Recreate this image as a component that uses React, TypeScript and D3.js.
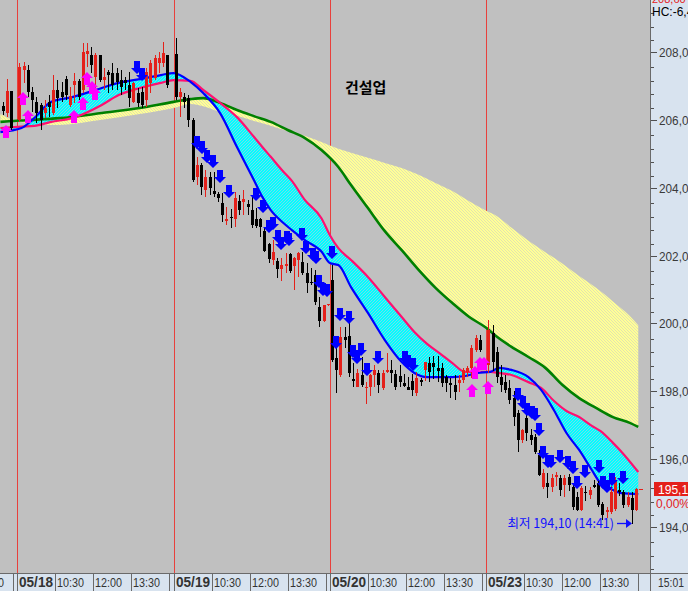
import { useEffect, useRef } from 'react';
import * as d3 from 'd3';

type Ohlc = [number, number, number, number];

const WIDTH = 688;
const HEIGHT = 591;
const PLOT_RIGHT = 650;
const PLOT_BOTTOM = 573;
const SLOTS_PER_DAY = 37;

// x axis: 10 minute slots, 09:00 .. 15:00 (37 per day)
const dayLabels = ['05/17', '05/18', '05/19', '05/20', '05/23'];
const tickSlots = [0, 9, 18, 27, 36];
const tickTimes = ['', '10:30', '12:00', '13:30', ''];
const lastTimeLabel = '15:01';

const priceTicks = [194, 196, 198, 200, 202, 204, 206, 208];

const ohlc0517: Ohlc[] = [
  [206.41, 206.53, 206.14, 206.26],
  [206.2, 207.2, 206.08, 206.85],
  [206.85, 206.85, 205.7, 205.76],
];

const ohlc0518: Ohlc[] = [
  [206.0, 207.67, 205.94, 207.57],
  [207.47, 207.7, 207.09, 207.59],
  [207.47, 207.62, 206.67, 206.82],
  [206.82, 206.97, 206.23, 206.59],
  [206.53, 206.67, 205.9, 206.2],
  [206.44, 206.5, 205.7, 206.0],
  [206.2, 206.59, 206.05, 206.35],
  [206.53, 206.73, 206.08, 206.38],
  [206.2, 207.32, 206.14, 206.88],
  [206.88, 207.17, 206.35, 206.64],
  [206.82, 207.12, 206.53, 206.67],
  [207.2, 207.29, 206.59, 206.73],
  [206.44, 206.97, 206.38, 206.7],
  [207.03, 207.38, 206.5, 207.14],
  [207.14, 207.2, 206.59, 206.67],
  [206.88, 208.27, 206.79, 208.0],
  [207.94, 208.27, 207.56, 208.03],
  [207.91, 208.15, 207.38, 207.62],
  [207.26, 207.97, 206.94, 207.91],
  [207.91, 207.91, 207.12, 207.17],
  [207.17, 207.53, 206.88, 207.26],
  [207.41, 207.47, 206.79, 207.32],
  [207.38, 207.68, 206.88, 207.03],
  [207.38, 207.53, 206.88, 207.12],
  [207.17, 207.47, 206.73, 206.97],
  [207.17, 207.26, 206.88, 207.09],
  [207.03, 207.41, 206.38, 206.64],
  [206.53, 207.12, 206.5, 207.09],
  [206.79, 206.94, 206.38, 206.5],
  [206.82, 206.97, 206.35, 206.44],
  [206.59, 207.53, 206.38, 207.41],
  [207.09, 207.76, 206.79, 207.68],
  [207.23, 207.91, 207.17, 207.82],
  [207.68, 208.0, 207.38, 207.82],
  [207.68, 208.3, 207.56, 207.97],
  [207.91, 207.91, 206.94, 207.03],
];

const ohlc0519: Ohlc[] = [
  [207.94, 208.41, 206.59, 206.67],
  [206.68, 206.94, 206.08, 206.82],
  [206.67, 206.79, 206.35, 206.53],
  [206.64, 206.73, 205.79, 206.0],
  [206.0, 206.05, 204.16, 204.22],
  [204.31, 204.9, 204.08, 204.67],
  [204.67, 204.73, 203.78, 204.02],
  [203.93, 204.52, 203.72, 204.31],
  [204.31, 204.46, 203.78, 203.99],
  [203.9, 204.46, 203.72, 203.81],
  [203.81, 203.87, 203.58, 203.69],
  [203.55, 203.84, 202.98, 203.19],
  [203.01, 203.43, 202.9, 203.07],
  [203.13, 203.37, 202.81, 203.1],
  [203.07, 203.87, 202.84, 203.69],
  [203.6, 203.78, 203.19, 203.34],
  [203.58, 203.93, 203.19, 203.66],
  [203.52, 203.63, 203.19, 203.43],
  [203.34, 203.78, 202.81, 202.9],
  [203.07, 203.4, 202.81, 202.87],
  [203.07, 203.1, 202.54, 202.84],
  [202.72, 202.81, 202.1, 202.13],
  [202.34, 202.37, 201.78, 201.89],
  [201.86, 202.46, 201.72, 202.1],
  [201.83, 201.92, 201.33, 201.6],
  [201.6, 201.92, 201.24, 201.72],
  [201.69, 202.07, 201.48, 201.75],
  [202.04, 202.07, 201.48, 201.54],
  [201.69, 201.95, 200.98, 201.92],
  [201.86, 202.1, 201.36, 202.07],
  [201.8, 202.1, 201.42, 201.48],
  [201.48, 201.78, 200.89, 201.19],
  [201.22, 201.63, 201.13, 201.19],
  [201.42, 201.57, 200.54, 200.63],
  [200.48, 200.77, 199.89, 200.06],
  [200.06, 200.54, 200.04, 200.54],
  [200.52, 200.56, 200.5, 200.56],
];

const ohlc0520: Ohlc[] = [
  [201.28, 201.72, 198.85, 198.91],
  [198.97, 199.5, 197.94, 198.62],
  [198.47, 199.89, 198.41, 199.59],
  [199.59, 199.89, 199.27, 199.5],
  [199.62, 200.0, 198.41, 198.53],
  [198.35, 198.83, 198.12, 198.29],
  [198.12, 198.65, 198.12, 198.53],
  [198.47, 199.0, 198.12, 198.18],
  [198.09, 198.26, 197.64, 198.12],
  [198.12, 198.5, 197.85, 198.47],
  [198.47, 198.77, 198.12, 198.62],
  [198.53, 198.62, 197.94, 198.18],
  [198.09, 198.62, 198.03, 198.53],
  [198.56, 199.12, 198.53, 198.62],
  [198.62, 198.91, 198.24, 198.53],
  [198.5, 198.62, 198.03, 198.12],
  [198.44, 198.77, 198.12, 198.27],
  [198.24, 198.5, 198.12, 198.15],
  [198.12, 198.41, 198.03, 198.03],
  [198.29, 198.5, 197.85, 198.03],
  [197.94, 198.56, 197.85, 198.38],
  [198.32, 198.38, 198.15, 198.26],
  [198.62, 198.85, 198.3, 198.85],
  [198.82, 199.0, 198.27, 198.56],
  [198.82, 199.03, 198.35, 198.7],
  [198.7, 199.03, 198.27, 198.62],
  [198.7, 198.82, 198.12, 198.26],
  [198.41, 198.47, 197.97, 198.24],
  [198.24, 198.38, 197.79, 198.18],
  [198.18, 198.47, 197.73, 197.97],
  [198.24, 198.47, 197.97, 198.32],
  [198.32, 198.7, 198.24, 198.62],
  [198.56, 198.74, 198.41, 198.68],
  [198.68, 199.36, 198.38, 199.27],
  [199.21, 199.65, 199.15, 199.56],
  [199.5, 199.65, 199.15, 199.21],
  [198.74, 198.77, 198.68, 198.7],
];

const ohlc0523: Ohlc[] = [
  [198.77, 200.09, 198.53, 199.8],
  [199.71, 199.95, 198.6, 198.85],
  [199.15, 199.3, 198.24, 198.41],
  [198.41, 198.77, 197.97, 198.18],
  [198.26, 198.47, 197.94, 198.03],
  [198.09, 198.32, 197.64, 197.73],
  [197.79, 198.0, 196.97, 197.23],
  [197.35, 197.44, 196.2, 196.55],
  [196.55, 196.9, 196.49, 196.85],
  [197.2, 197.29, 196.52, 196.76],
  [196.7, 196.9, 196.41, 196.55],
  [196.64, 196.73, 196.14, 196.2],
  [196.11, 196.26, 195.5, 195.52],
  [195.17, 195.7, 195.11, 195.58],
  [195.29, 195.58, 194.85, 195.17],
  [195.17, 195.55, 195.02, 195.43],
  [195.46, 195.61, 195.2, 195.52],
  [195.43, 195.52, 194.91, 195.08],
  [195.23, 195.52, 194.88, 195.43],
  [195.46, 195.55, 195.05, 195.23],
  [195.17, 195.23, 194.49, 194.58],
  [194.88, 195.02, 194.46, 194.49],
  [194.49, 195.2, 194.46, 195.14],
  [195.02, 195.2, 194.76, 194.99],
  [194.93, 195.17, 194.82, 195.08],
  [195.23, 195.38, 195.14, 195.17],
  [195.29, 195.35, 194.58, 194.64],
  [194.67, 194.73, 194.2, 194.35],
  [194.44, 194.58, 194.26, 194.49],
  [194.43, 195.2, 194.38, 195.02],
  [194.55, 195.46, 194.46, 195.37],
  [195.08, 195.29, 194.9, 195.02],
  [195.02, 195.08, 194.55, 194.64],
  [194.64, 195.02, 194.58, 194.88],
  [194.85, 195.02, 194.1, 194.49],
  [194.49, 195.14, 194.46, 195.11],
];

const sessions = [
  { day: 0, first: 33, rows: ohlc0517 },
  { day: 1, first: 0, rows: ohlc0518 },
  { day: 2, first: 0, rows: ohlc0519 },
  { day: 3, first: 0, rows: ohlc0520 },
  { day: 4, first: 0, rows: ohlc0523 },
];

// short averages (blue fast / pink slow), sampled at these slots
const fastSlots = [33, 38, 41, 45, 50, 57, 61, 66, 71, 74, 78, 81, 85, 89, 93, 95, 97, 100, 102, 105, 109, 111, 113, 116, 120, 124, 128, 131, 134, 137, 140, 143, 146, 149, 151, 154, 158, 161, 164, 167, 170, 173, 175, 178, 180, 184];
const blueLine = [205.64, 205.76, 206.05, 206.53, 206.67, 206.94, 207.09, 207.2, 207.32, 207.38, 207.12, 206.79, 206.2, 205.2, 204.23, 203.73, 203.34, 202.96, 202.75, 202.46, 202.12, 201.78, 201.72, 201.07, 200.31, 199.51, 198.86, 198.54, 198.42, 198.42, 198.42, 198.45, 198.54, 198.57, 198.69, 198.63, 198.42, 198.04, 197.45, 196.77, 196.27, 195.68, 195.3, 195.09, 195.0, 194.97];
const pinkLine = [205.76, 205.8, 205.82, 205.94, 206.05, 206.44, 206.73, 206.94, 207.09, 207.17, 207.15, 206.88, 206.5, 206.08, 205.5, 205.2, 204.91, 204.47, 204.2, 203.65, 203.1, 202.6, 202.22, 201.87, 201.37, 200.78, 200.19, 199.75, 199.4, 199.12, 198.83, 198.57, 198.57, 198.57, 198.54, 198.48, 198.27, 198.1, 197.72, 197.42, 197.24, 196.98, 196.83, 196.48, 196.22, 195.62];

// long averages (green / yellow edge)
const longSlots = [33, 35, 39, 47, 57, 66, 74, 78, 81, 85, 89, 93, 97, 101, 105, 109, 113, 116, 120, 124, 128, 132, 136, 140, 144, 148, 150, 154, 158, 162, 166, 170, 174, 178, 182, 184];
const greenLine = [205.94, 205.96, 205.99, 206.05, 206.2, 206.35, 206.53, 206.61, 206.64, 206.5, 206.29, 206.11, 205.94, 205.7, 205.47, 205.11, 204.61, 204.08, 203.4, 202.72, 202.16, 201.58, 201.05, 200.6, 200.19, 199.87, 199.66, 199.31, 199.01, 198.69, 198.19, 197.8, 197.51, 197.24, 197.07, 196.95];
const yellowLine = [206.17, 206.05, 205.91, 205.85, 206.0, 206.17, 206.35, 206.47, 206.4, 206.23, 206.12, 205.97, 205.83, 205.67, 205.53, 205.35, 205.15, 205.03, 204.88, 204.73, 204.58, 204.38, 204.14, 203.9, 203.6, 203.32, 203.2, 202.82, 202.44, 202.1, 201.77, 201.4, 201.05, 200.65, 200.22, 199.95];

// signal arrows: [slot, price]
const sellSignals: [number, number][] = [
  [64.8, 207.53], [66.0, 207.32],
  [79.1, 205.32], [80.2, 205.17], [81.3, 204.91], [82.8, 204.76], [84.5, 204.32], [86.5, 203.87],
  [93.0, 203.79], [94.7, 203.43], [96.2, 202.84], [97.0, 202.93], [98.2, 202.55], [98.9, 202.34],
  [100.4, 202.52], [100.9, 202.46], [103.8, 202.61], [104.9, 202.22], [106.4, 202.02], [107.1, 201.93],
  [107.9, 201.22], [108.9, 200.99], [109.9, 200.96], [111.1, 202.08],
  [112.0, 199.42], [113.0, 200.25], [115.1, 200.16], [116.0, 199.16], [117.0, 198.98], [117.9, 199.22],
  [119.2, 198.63], [122.0, 198.98], [128.3, 198.98], [129.1, 198.86], [130.1, 198.78],
  [155.1, 197.89], [156.2, 197.66], [157.1, 197.45], [158.3, 197.36], [159.1, 197.3], [160.1, 196.86],
  [161.0, 196.18], [162.2, 195.92], [162.8, 195.92], [165.0, 196.06], [166.9, 195.89], [168.1, 195.74],
  [169.0, 195.3], [170.9, 195.62], [174.2, 195.77], [175.2, 195.3], [176.0, 195.18], [177.2, 195.39], [179.9, 195.45],
];
const buySignals: [number, number][] = [
  [33.8, 205.67], [37.9, 206.64], [39.1, 206.11], [49.9, 206.11], [52.1, 206.5], [53.1, 207.23],
  [54.1, 206.97], [54.9, 206.79], [144.1, 198.04], [144.9, 198.57], [146.0, 198.83], [147.0, 198.83], [147.9, 198.12],
];

const chartTitle = '건설업';
const lastPrice = 195.11;
const lastChange = '0,00%';
const topPrice = '208,60';
const hcText = 'HC:-6,48';
const lowPrice = 194.1;
const lowTime = '14:41';

const AXIS_FONT = '"Liberation Sans", Arial, sans-serif';
const KR_FONT = '"Noto Sans CJK KR", "Noto Sans", sans-serif';
const fmt = (v: number) => v.toFixed(2).replace('.', ',');

export default function App() {
  const svgRef = useRef<SVGSVGElement | null>(null);

  useEffect(() => {
    const el = svgRef.current;
    if (!el) return;
    const svg = d3.select(el);
    svg.selectAll('*').remove();

    const x = d3.scaleLinear().domain([37, 185]).range([17.3, 642.5]);
    const y = d3.scaleLinear().domain([194, 208]).range([527, 52]);

    const defs = svg.append('defs');
    defs.append('clipPath').attr('id', 'plot-clip').append('rect').attr('width', PLOT_RIGHT).attr('height', PLOT_BOTTOM);
    const cyanPat = defs.append('pattern').attr('id', 'cyan-hatch').attr('patternUnits', 'userSpaceOnUse').attr('width', 3).attr('height', 3);
    cyanPat.append('rect').attr('width', 3).attr('height', 3).attr('fill', '#00ffff');
    cyanPat.append('path').attr('d', 'M0,3L3,0').attr('stroke', '#86d6e6').attr('stroke-width', 0.9);
    const yellowPat = defs.append('pattern').attr('id', 'yellow-hatch').attr('patternUnits', 'userSpaceOnUse').attr('width', 3).attr('height', 3);
    yellowPat.append('rect').attr('width', 3).attr('height', 3).attr('fill', '#ffff96');
    yellowPat.append('path').attr('d', 'M0,0L3,3').attr('stroke', '#dcdab4').attr('stroke-width', 0.8);

    const plot = svg.append('g').attr('clip-path', 'url(#plot-clip)');
    plot.append('rect').attr('width', PLOT_RIGHT).attr('height', PLOT_BOTTOM).attr('fill', '#c0c0c0');

    // day separators
    const dayStarts = dayLabels.map((_, i) => i * SLOTS_PER_DAY).filter((g) => g >= 37);
    plot
      .selectAll('line.day')
      .data(dayStarts)
      .join('line')
      .attr('class', 'day')
      .attr('x1', (g) => Math.round(x(g)) + 0.5)
      .attr('x2', (g) => Math.round(x(g)) + 0.5)
      .attr('y1', 0)
      .attr('y2', PLOT_BOTTOM)
      .attr('stroke', '#e8403c')
      .attr('stroke-width', 1);

    // long band
    const longBand = d3
      .area<number>()
      .x((_, i) => x(longSlots[i]))
      .y0((d) => y(d))
      .y1((_, i) => y(yellowLine[i]))
      .curve(d3.curveMonotoneX);
    plot.append('path').datum(greenLine).attr('d', longBand).attr('fill', 'url(#yellow-hatch)');

    // short band
    const shortBand = d3
      .area<number>()
      .x((_, i) => x(fastSlots[i]))
      .y0((d) => y(d))
      .y1((_, i) => y(pinkLine[i]))
      .curve(d3.curveMonotoneX);
    plot.append('path').datum(blueLine).attr('d', shortBand).attr('fill', 'url(#cyan-hatch)');

    const lineOn = (slots: number[]) =>
      d3
        .line<number>()
        .x((_, i) => x(slots[i]))
        .y((d) => y(d))
        .curve(d3.curveMonotoneX);

    plot.append('path').datum(greenLine).attr('d', lineOn(longSlots)).attr('fill', 'none').attr('stroke', '#008000').attr('stroke-width', 2.6);
    plot.append('path').datum(pinkLine).attr('d', lineOn(fastSlots)).attr('fill', 'none').attr('stroke', '#ff1070').attr('stroke-width', 2.2);
    plot.append('path').datum(blueLine).attr('d', lineOn(fastSlots)).attr('fill', 'none').attr('stroke', '#0000ff').attr('stroke-width', 2.2);

    // candles
    const candles = sessions.flatMap((s) =>
      s.rows.map(([o, h, l, c], i) => ({ g: s.day * SLOTS_PER_DAY + s.first + i, o, h, l, c })),
    );
    const candleG = plot.append('g');
    const rows = candleG.selectAll('g').data(candles).join('g');
    const colorOf = (d: { o: number; c: number }) => (d.c > d.o ? '#e4201a' : '#000000');
    rows
      .append('line')
      .attr('x1', (d) => Math.round(x(d.g + 0.5)) + 0.5)
      .attr('x2', (d) => Math.round(x(d.g + 0.5)) + 0.5)
      .attr('y1', (d) => Math.round(y(d.h)))
      .attr('y2', (d) => Math.round(y(d.l)))
      .attr('stroke', colorOf)
      .attr('stroke-width', 1);
    rows
      .append('rect')
      .attr('x', (d) => Math.round(x(d.g + 0.5)) - 1)
      .attr('width', 3)
      .attr('y', (d) => Math.round(y(Math.max(d.o, d.c))))
      .attr('height', (d) => Math.max(1, Math.round(Math.abs(y(d.o) - y(d.c)))))
      .attr('fill', colorOf);

    // signal arrows
    const downArrow = ([g, p]: [number, number]) => {
      const cx = Math.round(x(g + 0.5));
      const cy = Math.round(y(p));
      return `M${cx - 3},${cy - 7}h6v7h3l-6,6l-6,-6h3z`;
    };
    const upArrow = ([g, p]: [number, number]) => {
      const cx = Math.round(x(g + 0.5));
      const cy = Math.round(y(p));
      return `M${cx - 3},${cy + 7}h6v-7h3l-6,-6l-6,6h3z`;
    };
    plot.append('g').selectAll('path').data(sellSignals).join('path').attr('d', downArrow).attr('fill', '#0000ff');
    plot.append('g').selectAll('path').data(buySignals).join('path').attr('d', upArrow).attr('fill', '#ff00ff');

    // title
    plot
      .append('text')
      .attr('x', 345)
      .attr('y', 93)
      .attr('font-family', KR_FONT)
      .attr('font-size', 15)
      .attr('font-weight', 700)
      .attr('fill', '#000')
      .text(chartTitle);

    // low marker
    const lowCandle = candles.find((d) => d.l === lowPrice)!;
    const lowX = Math.round(x(lowCandle.g + 0.5));
    const lowY = Math.round(y(lowPrice + 0.02));
    plot
      .append('text')
      .attr('x', lowX - 18)
      .attr('y', lowY + 5)
      .attr('text-anchor', 'end')
      .attr('font-family', KR_FONT)
      .attr('font-size', 12.5)
      .attr('fill', '#1010ff')
      .text(`최저 ${fmt(lowPrice)} (${lowTime})`);
    plot
      .append('path')
      .attr('d', `M${lowX - 15},${lowY + 0.5}h10`)
      .attr('stroke', '#1010ff')
      .attr('stroke-width', 1.3);
    plot
      .append('path')
      .attr('d', `M${lowX - 6},${lowY - 4}l6,4.5l-6,4.5z`)
      .attr('fill', '#1010ff');

    // current price tick
    const lastCandle = candles[candles.length - 1];
    plot
      .append('line')
      .attr('x1', Math.round(x(lastCandle.g + 0.5)) + 3)
      .attr('x2', Math.round(x(lastCandle.g + 0.5)) + 7)
      .attr('y1', Math.round(y(lastPrice)) + 0.5)
      .attr('y2', Math.round(y(lastPrice)) + 0.5)
      .attr('stroke', '#e4201a');

    // right price panel
    const panel = svg.append('g');
    panel.append('rect').attr('x', PLOT_RIGHT).attr('y', 0).attr('width', WIDTH - PLOT_RIGHT).attr('height', HEIGHT).attr('fill', '#d8e3ef');
    panel.append('rect').attr('x', 0).attr('y', PLOT_BOTTOM).attr('width', WIDTH).attr('height', HEIGHT - PLOT_BOTTOM).attr('fill', '#d8e3ef');

    const minorTicks = d3.range(192.75, 209.7, 0.4).filter((v) => Math.abs(v - Math.round(v / 2) * 2) > 0.1);
    panel
      .selectAll('line.minor')
      .data(minorTicks)
      .join('line')
      .attr('class', 'minor')
      .attr('x1', PLOT_RIGHT)
      .attr('x2', PLOT_RIGHT + 4)
      .attr('y1', (v) => Math.round(y(v)) + 0.5)
      .attr('y2', (v) => Math.round(y(v)) + 0.5)
      .attr('stroke', '#505050');
    panel
      .selectAll('line.major')
      .data(priceTicks)
      .join('line')
      .attr('class', 'major')
      .attr('x1', PLOT_RIGHT)
      .attr('x2', PLOT_RIGHT + 7)
      .attr('y1', (v) => Math.round(y(v)) + 0.5)
      .attr('y2', (v) => Math.round(y(v)) + 0.5)
      .attr('stroke', '#505050');
    panel
      .selectAll('text.price')
      .data(priceTicks)
      .join('text')
      .attr('class', 'price')
      .attr('x', 659)
      .attr('y', (v) => Math.round(y(v)) + 5)
      .attr('font-family', AXIS_FONT)
      .attr('font-size', 12.5)
      .attr('textLength', 36)
      .attr('lengthAdjust', 'spacingAndGlyphs')
      .attr('fill', '#3a3a3a')
      .text((v) => fmt(v));

    panel.append('text').attr('x', 652).attr('y', 3).attr('font-family', AXIS_FONT).attr('font-size', 11).attr('fill', '#e4201a').text(topPrice);
    panel.append('text').attr('x', 652).attr('y', 16).attr('font-family', AXIS_FONT).attr('font-size', 12).attr('fill', '#000').text(hcText);

    const lastY = Math.round(y(lastPrice));
    panel.append('rect').attr('x', 654).attr('y', lastY - 7).attr('width', WIDTH - 654).attr('height', 14).attr('fill', '#e4201a');
    panel
      .append('text')
      .attr('x', 658)
      .attr('y', lastY + 5)
      .attr('font-family', AXIS_FONT)
      .attr('font-size', 12.5)
      .attr('textLength', 36)
      .attr('lengthAdjust', 'spacingAndGlyphs')
      .attr('fill', '#ffffff')
      .text(fmt(lastPrice));
    panel
      .append('text')
      .attr('x', 656)
      .attr('y', lastY + 19)
      .attr('font-family', AXIS_FONT)
      .attr('font-size', 12)
      .attr('fill', '#e4201a')
      .text(lastChange);

    // bottom time axis
    const ticks = dayLabels.flatMap((day, d) =>
      tickSlots.map((s, k) => ({ g: d * SLOTS_PER_DAY + s, label: s === 0 ? day : tickTimes[k], bold: s === 0 })),
    );
    const axis = svg.append('g');
    axis
      .selectAll('line.sep')
      .data(ticks)
      .join('line')
      .attr('class', 'sep')
      .attr('x1', (t) => Math.round(x(t.g)) + 0.5)
      .attr('x2', (t) => Math.round(x(t.g)) + 0.5)
      .attr('y1', PLOT_BOTTOM)
      .attr('y2', HEIGHT)
      .attr('stroke', '#6a6a6a');
    axis
      .selectAll('text.time')
      .data(ticks.filter((t) => t.label))
      .join('text')
      .attr('class', 'time')
      .attr('x', (t) => Math.round(x(t.g)) + 2)
      .attr('y', 587)
      .attr('font-family', AXIS_FONT)
      .attr('font-size', (t) => (t.bold ? 14 : 13))
      .attr('font-weight', (t) => (t.bold ? 700 : 400))
      .attr('textLength', (t) => (t.bold ? 34 : 27))
      .attr('lengthAdjust', 'spacingAndGlyphs')
      .attr('fill', '#333')
      .text((t) => t.label);
    axis
      .append('text')
      .attr('x', 658)
      .attr('y', 587)
      .attr('font-family', AXIS_FONT)
      .attr('font-size', 13)
      .attr('textLength', 26)
      .attr('lengthAdjust', 'spacingAndGlyphs')
      .attr('fill', '#333')
      .text(lastTimeLabel);

    axis.append('line').attr('x1', 0).attr('x2', WIDTH).attr('y1', PLOT_BOTTOM + 0.5).attr('y2', PLOT_BOTTOM + 0.5).attr('stroke', '#6a6a6a');
    axis.append('line').attr('x1', PLOT_RIGHT + 0.5).attr('x2', PLOT_RIGHT + 0.5).attr('y1', 0).attr('y2', HEIGHT).attr('stroke', '#6a6a6a');
  }, []);

  return (
    <svg
      ref={svgRef}
      width={WIDTH}
      height={HEIGHT}
      style={{ position: 'absolute', left: 0, top: 0, display: 'block' }}
      aria-label="건설업 분봉 차트"
    />
  );
}
